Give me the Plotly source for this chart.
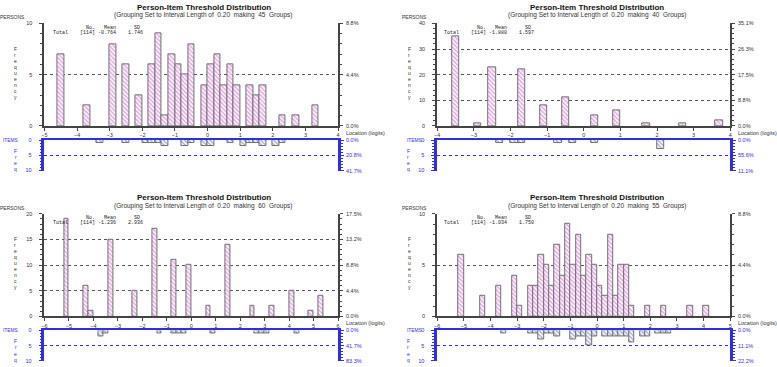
import plotly.graph_objects as go

W, H = 777, 367

# ---------------- data ----------------
titles = ["Person-Item Threshold Distribution"] * 4
group_counts = [45, 40, 60, 55]
n_total = [114, 114, 114, 114]
means = ["-0.764", "-1.880", "-1.236", "-1.034"]
sds = ["1.746", "1.597", "2.936", "1.750"]

x_ranges = [(-5, 4), (-4, 4), (-6, 6), (-6, 5)]
person_ymax = [10, 40, 20, 10]
person_major = [5, 10, 5, 5]
person_minor = [1, 2, 1, 1]

tl_person_x = [-4.5, -3.7, -2.9, -2.5, -2.1, -1.7, -1.5, -1.3, -1.1, -0.9, -0.7, -0.5,
               -0.1, 0.1, 0.3, 0.5, 0.7, 0.9, 1.3, 1.5, 1.7, 2.3, 2.7, 3.3]
tl_person_n = [7, 2, 8, 6, 3, 6, 9, 1, 7, 6, 5, 8, 4, 6, 7, 4, 6, 4, 4, 3, 4, 1, 1, 2]
tl_item_x = [-3.3, -2.5, -1.9, -1.7, -1.5, -1.3, -0.7, -0.5, -0.1, 0.1, 0.7, 1.1, 1.3,
             1.5, 1.7, 2.1, 2.3]
tl_item_n = [1, 1, 1, 1, 1, 2, 2, 1, 2, 2, 1, 2, 1, 1, 2, 2, 1]

tr_person_x = [-3.5, -2.9, -2.5, -1.7, -1.1, -0.5, 0.3, 0.9, 1.7, 2.7, 3.7]
tr_person_n = [35, 1, 23, 22, 8, 11, 4, 6, 1, 1, 2]
tr_item_x = [-2.3, -1.9, -1.7, -0.7, -0.3, 0.3, 2.1]
tr_item_n = [1, 1, 1, 1, 1, 1, 3]

bl_person_x = [-5.1, -4.3, -4.1, -3.3, -2.3, -1.5, -0.7, -0.1, 0.7, 1.5, 2.5, 3.3, 4.1, 4.9, 5.3]
bl_person_n = [19, 6, 1, 15, 5, 17, 11, 10, 2, 14, 2, 2, 5, 1, 4]
bl_item_x = [-3.7, -3.5, -1.3, -0.7, -0.5, -0.3, 0.9, 2.7, 2.9, 3.1, 4.3]
bl_item_n = [2, 1, 1, 1, 1, 1, 1, 1, 1, 1, 1]

br_person_x = [-5.1, -4.3, -3.7, -3.1, -2.9, -2.5, -2.3, -2.1, -1.9, -1.7, -1.5, -1.3, -1.1,
               -0.9, -0.7, -0.5, -0.3, -0.1, 0.1, 0.3, 0.5, 0.7, 0.9, 1.1, 1.3, 1.9, 2.5,
               3.5, 4.1]
br_person_n = [6, 2, 3, 4, 1, 3, 3, 6, 5, 3, 7, 4, 9, 5, 8, 4, 6, 5, 3, 2, 8, 2, 5, 5, 1,
               1, 1, 1, 1]
br_item_x = [-3.5, -2.5, -2.3, -2.1, -1.9, -1.7, -1.5, -0.9, -0.7, -0.5, -0.3, -0.1, 0.3,
             0.5, 0.7, 0.9, 1.1, 1.3, 1.7, 1.9, 2.3, 2.5, 2.7]
br_item_n = [1, 1, 1, 3, 1, 1, 2, 3, 2, 2, 5, 2, 2, 2, 2, 2, 2, 4, 2, 2, 1, 1, 1]

person_pct_labels = [
    ["0.0%", "4.4%", "8.8%"],
    ["0.0%", "8.8%", "17.5%", "26.3%", "35.1%"],
    ["0.0%", "4.4%", "8.8%", "13.2%", "17.5%"],
    ["0.0%", "4.4%", "8.8%"],
]
item_ticks = [0, 5, 10]
item_pct_labels = [
    ["0.0%", "20.8%", "41.7%"],
    ["0.0%", "55.6%", "11.1%"],
    ["0.0%", "41.7%", "83.3%"],
    ["0.0%", "11.1%", "22.2%"],
]

person_x = [tl_person_x, tr_person_x, bl_person_x, br_person_x]
person_n = [tl_person_n, tr_person_n, bl_person_n, br_person_n]
item_x = [tl_item_x, tr_item_x, bl_item_x, br_item_x]
item_n = [tl_item_n, tr_item_n, bl_item_n, br_item_n]

# ---------------- styling / layout ----------------
BIN = 0.2
PINK = "#c94ac9"
NAVY = "#3f4f96"
EDGE = "#707070"
BLUE = "#2f2fe0"
DARK = "#444444"
FONT = "Liberation Sans"
MONO = "Liberation Mono"

cols = [
    dict(ax0=41.7, ax1=337.3, persons_r=24, freq_x=12.3, items_x=8, ifreq_x=13, title_cx=202, stats_x=48),
    dict(ax0=437.0, ax1=732.0, persons_r=429, freq_x=409, items_x=414, ifreq_x=408, title_cx=598, stats_x=442),
]
rows = [dict(oy=0.0), dict(oy=193.6)]


def px(x):
    return x / W


def py(y):
    return 1 - y / H


def nb(s):
    return s.replace(" ", "\u00a0")


fig = go.Figure()
layout = dict(
    width=W, height=H, autosize=False,
    margin=dict(l=0, r=0, t=0, b=0),
    paper_bgcolor="white", plot_bgcolor="white",
    font=dict(family=FONT, size=5.5, color="#333"),
    showlegend=False,
    bargap=0,
)
annotations = []


def nm(prefix, i):
    return prefix + ("" if i == 1 else str(i))


def ann(text, x, y, size=5.5, color="#333", xanchor="center", family=FONT, bold=False, yref="paper"):
    annotations.append(dict(
        text=("<b>%s</b>" % text) if bold else text,
        x=px(x), y=py(y) if yref == "paper" else y, xref="paper", yref=yref,
        xanchor=xanchor, yanchor="middle", showarrow=False,
        font=dict(size=size, color=color, family=family),
    ))


for k in range(4):
    c = cols[k % 2]
    r = rows[k // 2]
    oy = r["oy"]
    xa_p, xa_i = 2 * k + 1, 2 * k + 2
    ya_p, ya_i = 2 * k + 1, 2 * k + 2
    xdom = [px(c["ax0"]), px(c["ax1"])]
    pdom = [py(oy + 125.0), py(oy + 20.7)]
    idom = [py(oy + 170.3), py(oy + 139.3)]
    xmin, xmax = x_ranges[k]
    ymax = person_ymax[k]

    fig.add_trace(go.Bar(
        x=person_x[k], y=person_n[k], width=BIN,
        xaxis=nm("x", xa_p), yaxis=nm("y", ya_p),
        marker=dict(color="white", line=dict(color=EDGE, width=1),
                    pattern=dict(shape="\\", fgcolor=PINK, bgcolor="white", size=3, solidity=0.5)),
        hoverinfo="skip",
    ))
    fig.add_trace(go.Bar(
        x=item_x[k], y=item_n[k], width=BIN,
        xaxis=nm("x", xa_i), yaxis=nm("y", ya_i),
        marker=dict(color="white", line=dict(color=EDGE, width=1),
                    pattern=dict(shape="\\", fgcolor=NAVY, bgcolor="white", size=3, solidity=0.45)),
        hoverinfo="skip",
    ))

    layout[nm("xaxis", xa_p)] = dict(
        domain=xdom, anchor=nm("y", ya_p), range=[xmin, xmax],
        tick0=0, dtick=1, ticks="outside", ticklen=3, tickcolor=DARK,
        showline=True, linecolor=DARK, linewidth=1.5,
        showgrid=False, zeroline=False, tickfont=dict(size=5.5, color="#333"),
        fixedrange=True,
    )
    layout[nm("yaxis", ya_p)] = dict(
        domain=pdom, anchor=nm("x", xa_p), range=[0, ymax],
        tick0=0, dtick=person_major[k], ticks="outside", ticklen=3, tickcolor=DARK,
        minor=dict(dtick=person_minor[k], ticks="outside", ticklen=2, tickcolor=DARK, showgrid=False),
        showline=True, linecolor=DARK, linewidth=2, mirror="ticks",
        showgrid=True, gridcolor="#555", griddash="dot", gridwidth=1,
        zeroline=False, tickfont=dict(size=5.5, color="#333"), ticklabelstandoff=6,
        fixedrange=True,
    )
    layout[nm("xaxis", xa_i)] = dict(
        domain=xdom, anchor=nm("y", ya_i), range=[xmin, xmax], side="top",
        showline=True, linecolor=BLUE, linewidth=1.5, showticklabels=False, ticks="",
        showgrid=False, zeroline=False, fixedrange=True,
    )
    layout[nm("yaxis", ya_i)] = dict(
        domain=idom, anchor=nm("x", xa_i), range=[10, 0],
        tickmode="array", tickvals=item_ticks, ticks="outside", ticklen=3, tickcolor=BLUE,
        minor=dict(dtick=1, tick0=0, ticks="outside", ticklen=2, tickcolor=BLUE, showgrid=False),
        showline=True, linecolor=BLUE, linewidth=2.5, mirror="ticks",
        showgrid=True, gridcolor=BLUE, griddash="dot", gridwidth=1,
        zeroline=False, tickfont=dict(size=5.5, color=BLUE), ticklabelstandoff=6,
        fixedrange=True,
    )

    # right-hand percentage labels
    pticks = [person_major[k] * i for i in range(len(person_pct_labels[k]))]
    for v, t in zip(pticks, person_pct_labels[k]):
        ann(t, c["ax1"] + 5.5, v, size=5.5, xanchor="left", yref=nm("y", ya_p))
    for v, t in zip(item_ticks, item_pct_labels[k]):
        ann(t, c["ax1"] + 5.5, v, size=5.5, xanchor="left", color=BLUE, yref=nm("y", ya_i))

    ann(titles[k], c["title_cx"], oy + 4.2, size=8, color="#111", bold=True)
    ann("(Grouping Set to Interval Length of  %.2f  making  %d  Groups)" % (BIN, group_counts[k]),
        c["title_cx"], oy + 12.7, size=6.5)
    ann("PERSONS", c["persons_r"], oy + 14.3, size=5, xanchor="right")
    for j, ch in enumerate("Frequency"):
        ann(ch, c["freq_x"], oy + 46.7 + j * 6.1, size=5)
    ann("ITEMS", c["items_x"], oy + 139.3, size=4.8, color=BLUE)
    for j, ch in enumerate("Freq"):
        ann(ch, c["ifreq_x"], oy + 150 + j * 6.4, size=5, color=BLUE)
    ann("Location (logits)", c["ax1"] + 5.5, oy + 131.7, size=5.5, xanchor="left")
    head = " " * 11 + "No.   Mean      SD"
    line = "Total    [%d] %s    %s" % (n_total[k], means[k], sds[k])
    ann(nb(head), c["stats_x"], oy + 25.0, size=5, family=MONO, xanchor="left", color="#222")
    ann(nb(line), c["stats_x"], oy + 30.3, size=5, family=MONO, xanchor="left", color="#222")

layout["annotations"] = annotations
fig.update_layout(**layout)
fig.write_html(
    "out.html",
    config={"displayModeBar": False},
    post_script="document.body.style.margin='0';document.body.style.overflow='hidden';",
)
